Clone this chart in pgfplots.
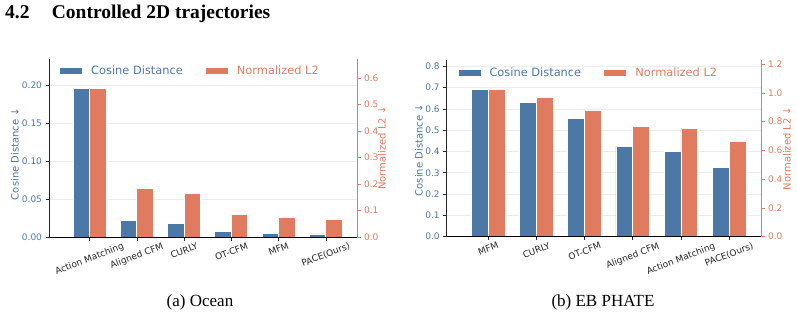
\documentclass[border=0pt]{standalone}
\usepackage{pgfplots}
\usepackage{pgfplotstable}
\pgfplotsset{compat=1.18}
\usepackage{fontspec}
\setmainfont{Liberation Serif}
\newfontfamily\dejavu{DejaVu Sans}

\definecolor{cblue}{RGB}{76,120,168}
\definecolor{corange}{RGB}{224,123,95}
\definecolor{gridgray}{RGB}{236,236,236}
\definecolor{spine}{RGB}{38,38,38}

% Ocean
\pgfplotstableread{
idx cos   l2
0   0.195 0.560
1   0.022 0.182
2   0.018 0.164
3   0.007 0.085
4   0.005 0.074
5   0.004 0.067
}\ocean

% EB PHATE
\pgfplotstableread{
idx cos   l2
0   0.691 1.025
1   0.630 0.968
2   0.555 0.880
3   0.425 0.769
4   0.401 0.755
5   0.326 0.660
}\ebphate

\newcommand{\rot}[1]{\rotatebox{21}{#1}}

\pgfplotsset{
  common/.style={
    scale only axis,
    anchor=south west,
    xmin=-0.86, xmax=5.66,
    axis line style={-},
    tick align=outside,
    major tick length=3.5pt,
    /pgf/number format/assume math mode=true,
    every tick label/.append style={font=\dejavu\fontsize{9}{10}\selectfont},
    legend image code/.code={\fill[##1, draw=none] (0pt,-3pt) rectangle (22pt,3pt);},
  },
  % left axis: cosine distance, grid, category ticks
  leftax/.style={
    common,
    axis y line*=left,
    axis x line*=bottom,
    x axis line style={draw=black, line width=0.9pt},
    y axis line style={draw=spine, line width=0.9pt},
    xtick={0,...,5},
    xtick style={draw=spine, line width=0.6pt},
    ytick style={draw=spine, line width=0.6pt},
    ymajorgrids,
    grid style={gridgray, line width=0.6pt},
    yticklabel style={color=cblue},
    xticklabel style={anchor=north, inner sep=0pt, text=spine, yshift=-1.5pt},
    legend style={draw=none, fill=none, inner sep=0pt,
      font=\dejavu\fontsize{11.4}{13}\selectfont,
      nodes={inner sep=1pt},
      /tikz/every odd column/.append style={column sep=8pt},
      /tikz/every even column/.append style={column sep=22pt}},
    legend columns=2,
    legend cell align=left,
  },
  % right axis: normalized L2, drawn on top so the bottom spine covers the bars
  rightax/.style={
    common,
    axis on top,
    axis y line*=right,
    axis x line*=bottom,
    x axis line style={draw=black, line width=0.9pt},
    y axis line style={draw=corange, line width=0.9pt},
    ytick style={draw=corange, line width=0.6pt},
    xtick=\empty,
    yticklabel style={color=corange},
  },
  lefty/.style 2 args={every axis y label/.style={at={(axis description cs:0,#1)}, xshift=#2, rotate=90, anchor=center,
    font=\dejavu\fontsize{10}{12}\selectfont, color=cblue}},
  righty/.style={every axis y label/.style={at={(axis description cs:1,0.5)}, xshift=#1, rotate=90, anchor=center,
    font=\dejavu\fontsize{10}{12}\selectfont, color=corange}},
}

\begin{document}
\begin{tikzpicture}
\useasboundingbox (0pt,0pt) rectangle (797pt,314pt);

% section heading
\node[anchor=base west, inner sep=0pt, font=\fontsize{19.5}{22}\selectfont\bfseries] at (5pt,295pt) {4.2};
\node[anchor=base west, inner sep=0pt, font=\fontsize{19.5}{22}\selectfont\bfseries] at (51.7pt,295pt) {Controlled 2D trajectories};

% ---------------- (a) Ocean ----------------
\begin{axis}[leftax,
  at={(49pt,77pt)}, width=308pt, height=178pt,
  ymin=0, ymax=0.234,
  ytick={0,0.05,0.10,0.15,0.20},
  yticklabel style={/pgf/number format/fixed, /pgf/number format/fixed zerofill, /pgf/number format/precision=2},
  xticklabels={\rot{Action Matching},\rot{Aligned CFM},\rot{CURLY},\rot{OT-CFM},\rot{MFM},\rot{PACE(Ours)}},
  ylabel={Cosine Distance ↓},
  lefty={0.466}{-34pt},
  legend style={at={(axis description cs:0,0.931)}, anchor=west, xshift=11pt},
]
\addplot[ybar, bar width=0.35, bar shift=-0.175, fill=cblue, draw=white, line width=0.8pt] table[x=idx, y=cos] {\ocean};
\addlegendentry{\textcolor{cblue}{Cosine Distance}}
\addlegendimage{fill=corange}
\addlegendentry{\textcolor{corange}{Normalized L2}}
\end{axis}
\begin{axis}[rightax,
  at={(49pt,77pt)}, width=308pt, height=178pt,
  ymin=0, ymax=0.672,
  ytick={0,0.1,0.2,0.3,0.4,0.5,0.6},
  yticklabel style={/pgf/number format/fixed, /pgf/number format/fixed zerofill, /pgf/number format/precision=1},
  ylabel={Normalized L2 ↓},
  righty={25pt},
]
\addplot[ybar, bar width=0.35, bar shift=0.175, fill=corange, draw=white, line width=0.8pt] table[x=idx, y=l2] {\ocean};
\end{axis}

% ---------------- (b) EB PHATE ----------------
\begin{axis}[leftax,
  at={(446.7pt,77.3pt)}, width=314.3pt, height=176.7pt,
  ymin=0, ymax=0.829,
  ytick={0,0.1,0.2,0.3,0.4,0.5,0.6,0.7,0.8},
  yticklabel style={/pgf/number format/fixed, /pgf/number format/fixed zerofill, /pgf/number format/precision=1},
  xticklabels={\rot{MFM},\rot{CURLY},\rot{OT-CFM},\rot{Aligned CFM},\rot{Action Matching},\rot{PACE(Ours)}},
  ylabel={Cosine Distance ↓},
  lefty={0.49}{-27.7pt},
  legend style={at={(axis description cs:0,0.925)}, anchor=west, xshift=11.6pt},
]
\addplot[ybar, bar width=0.35, bar shift=-0.175, fill=cblue, draw=white, line width=0.8pt] table[x=idx, y=cos] {\ebphate};
\addlegendentry{\textcolor{cblue}{Cosine Distance}}
\addlegendimage{fill=corange}
\addlegendentry{\textcolor{corange}{Normalized L2}}
\end{axis}
\begin{axis}[rightax,
  at={(446.7pt,77.3pt)}, width=314.3pt, height=176.7pt,
  ymin=0, ymax=1.229,
  ytick={0,0.2,0.4,0.6,0.8,1.0,1.2},
  yticklabel style={/pgf/number format/fixed, /pgf/number format/fixed zerofill, /pgf/number format/precision=1},
  ylabel={Normalized L2 ↓},
  righty={26pt},
]
\addplot[ybar, bar width=0.35, bar shift=0.175, fill=corange, draw=white, line width=0.8pt] table[x=idx, y=l2] {\ebphate};
\end{axis}

% sub-captions
\node[anchor=base, inner sep=0pt, font=\fontsize{17}{20}\selectfont] at (200pt,7.5pt) {(a) Ocean};
\node[anchor=base, inner sep=0pt, font=\fontsize{17}{20}\selectfont] at (603pt,7.5pt) {(b) EB PHATE};
\end{tikzpicture}
\end{document}
